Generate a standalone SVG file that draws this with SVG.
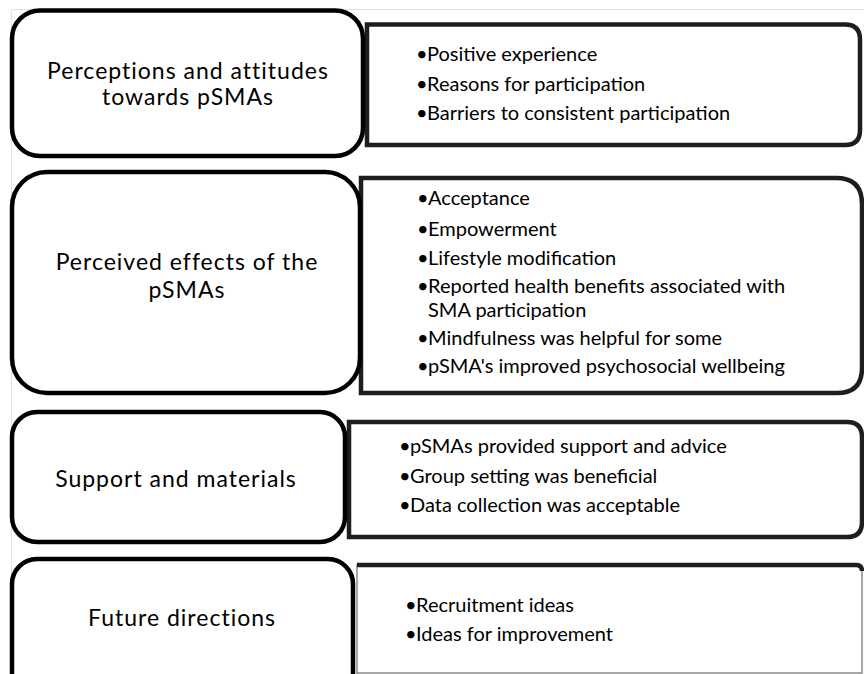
<svg xmlns="http://www.w3.org/2000/svg" width="864" height="674" viewBox="0 0 864 674">
<style>
.frame{fill:none;stroke:#e3e3e3;stroke-width:1}
.theme{fill:#fff;stroke:#000;stroke-width:4.5}
.items{fill:#fff;stroke:#1e1e1e;stroke-width:4.5}
.thin{fill:#fff;stroke:#8a8a8a;stroke-width:1.5}
.lbl{font-family:Lato,"Open Sans","Liberation Sans",sans-serif;font-size:23px;letter-spacing:1px;fill:#000;text-anchor:middle}
.it{font-family:Lato,"Open Sans","Liberation Sans",sans-serif;font-size:20px;fill:#000}
</style>
<rect width="864" height="674" fill="#fff"/>
<path class="frame" d="M11.5,674 V9.5 H864"/>
<g id="items1">
<path class="items" d="M367,24.5 H845 Q860,24.5 860,39.5 V130 Q860,145 845,145 H367 Z"/>
<text class="it" x="416" y="61">•<tspan x="427">Positive experience</tspan></text>
<text class="it" x="416" y="91">•<tspan x="427">Reasons for participation</tspan></text>
<text class="it" x="416" y="120">•<tspan x="427">Barriers to consistent participation</tspan></text>
</g>
<g id="items2">
<path class="items" d="M361,178 H836 Q862,178 862,204 V368 Q862,393 837,393 H361 Z"/>
<text class="it" x="417" y="205">•<tspan x="428">Acceptance</tspan></text>
<text class="it" x="417" y="236">•<tspan x="428">Empowerment</tspan></text>
<text class="it" x="417" y="265">•<tspan x="428">Lifestyle modification</tspan></text>
<text class="it" x="417" y="293">•<tspan x="428">Reported health benefits associated with</tspan></text>
<text class="it" x="428" y="317">SMA participation</text>
<text class="it" x="417" y="345">•<tspan x="428">Mindfulness was helpful for some</tspan></text>
<text class="it" x="417" y="373">•<tspan x="428">pSMA's improved psychosocial wellbeing</tspan></text>
</g>
<g id="items3">
<path class="items" d="M349,422 H847 Q862,422 862,437 V522 Q862,537 847,537 H349 Z"/>
<text class="it" x="399" y="453">•<tspan x="410">pSMAs provided support and advice</tspan></text>
<text class="it" x="399" y="483">•<tspan x="410">Group setting was beneficial</tspan></text>
<text class="it" x="399" y="512">•<tspan x="410">Data collection was acceptable</tspan></text>
</g>
<g id="items4">
<path class="thin" d="M357,676 V565 H856 Q862,565 862,571 V673 H357"/>
<path d="M357,565 H856 Q862,565 862,571" fill="none" stroke="#1e1e1e" stroke-width="4.5"/>
<text class="it" x="405" y="612">•<tspan x="416">Recruitment ideas</tspan></text>
<text class="it" x="405" y="641">•<tspan x="416">Ideas for improvement</tspan></text>
</g>
<g id="theme1">
<rect class="theme" x="12" y="10.5" width="351" height="145.5" rx="28"/>
<text class="lbl" x="188" y="79">Perceptions and attitudes</text>
<text class="lbl" x="188" y="105">towards pSMAs</text>
</g>
<g id="theme2">
<rect class="theme" x="12" y="172" width="348" height="221" rx="35"/>
<text class="lbl" x="187" y="270">Perceived effects of the</text>
<text class="lbl" x="187" y="298">pSMAs</text>
</g>
<g id="theme3">
<rect class="theme" x="12" y="412" width="333" height="130" rx="25"/>
<text class="lbl" x="176" y="487">Support and materials</text>
</g>
<g id="theme4">
<rect class="theme" x="12" y="559" width="341" height="140" rx="25"/>
<text class="lbl" x="182" y="626">Future directions</text>
</g>
</svg>
